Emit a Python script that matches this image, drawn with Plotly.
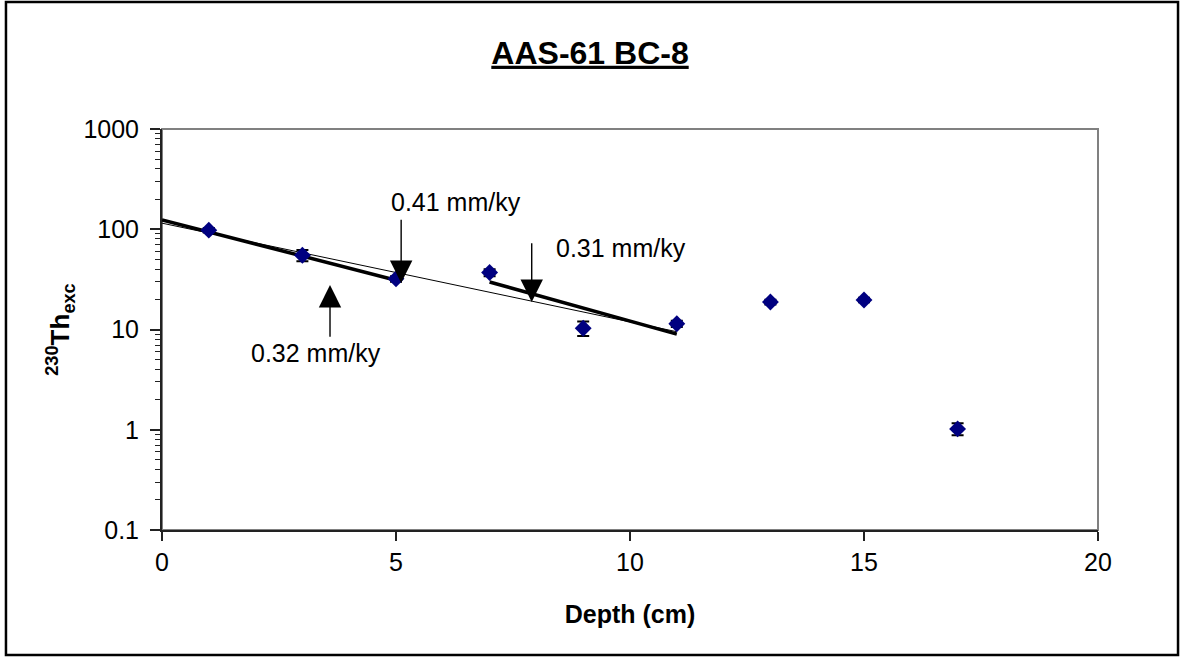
import math
import plotly.graph_objects as go

# ---- data ----
depth = [1, 3, 5, 7, 9, 11, 13, 15, 17]
th230_exc = [98, 55, 32, 37, 10.3, 11.4, 18.8, 19.7, 1.02]
th230_err = [5, 7, 2, 3, 1.7, 0.8, 1.0, 1.0, 0.14]

fit_all_x = [0, 11]
fit_all_y = [115, 9.5]
fit_top_x = [0, 5]
fit_top_y = [124, 31]
fit_low_x = [7, 11]
fit_low_y = [29.8, 9.0]

rate_labels = ["0.41 mm/ky", "0.32 mm/ky", "0.31 mm/ky"]
# arrow tip and tail in data units, label position in data units
arrow_tip_x = [5.11, 3.59, 7.90]
arrow_tip_y = [29.1, 27.8, 18.8]
arrow_tail_x = [5.11, 3.59, 7.90]
arrow_tail_y = [129, 8.2, 75]
label_x = [6.28, 3.29, 9.81]
label_y = [187, 5.83, 65]

x_ticks = [0, 5, 10, 15, 20]
y_ticks = [0.1, 1, 10, 100, 1000]
y_ticktext = ["0.1", "1", "10", "100", "1000"]

FONT = "Liberation Sans, Arial, sans-serif"

fig = go.Figure()

fig.add_trace(go.Scatter(x=fit_all_x, y=fit_all_y, mode="lines",
                         line=dict(color="black", width=1), showlegend=False))
fig.add_trace(go.Scatter(x=fit_top_x, y=fit_top_y, mode="lines",
                         line=dict(color="black", width=3.5), showlegend=False))
fig.add_trace(go.Scatter(x=fit_low_x, y=fit_low_y, mode="lines",
                         line=dict(color="black", width=3.5), showlegend=False))

fig.add_trace(go.Scatter(
    x=depth, y=th230_exc, mode="markers",
    marker=dict(symbol="diamond", size=13, color="#000080"),
    error_y=dict(type="data", array=th230_err, color="black", thickness=2, width=6),
    showlegend=False))

# annotations on a log axis take log10 positions
for i, lab in enumerate(rate_labels):
    fig.add_annotation(x=arrow_tip_x[i], y=math.log10(arrow_tip_y[i]),
                       ax=arrow_tail_x[i], ay=math.log10(arrow_tail_y[i]),
                       axref="x", ayref="y", xref="x", yref="y",
                       text="", showarrow=True, arrowhead=2, arrowsize=3.2,
                       arrowwidth=1.4, arrowcolor="black")
    fig.add_annotation(x=label_x[i], y=math.log10(label_y[i]), xref="x", yref="y",
                       text=lab, showarrow=False,
                       font=dict(family=FONT, size=25, color="black"))

# plot-area frame (grey) and outer chart border
fig.add_shape(type="rect", xref="paper", yref="paper", x0=0, x1=1, y0=0, y1=1,
              line=dict(color="#808080", width=2), layer="below")
fig.add_shape(type="rect", xref="paper", yref="paper",
              x0=-0.1667, x1=1.0855, y0=-0.3117, y1=1.3167,
              line=dict(color="black", width=2.5), layer="below")

fig.update_layout(
    width=1180, height=657,
    margin=dict(l=162, r=82, t=129, b=127),
    paper_bgcolor="white", plot_bgcolor="white",
    font=dict(family=FONT, color="black", size=25),
    title=dict(text="<b><u>AAS-61 BC-8</u></b>", x=0.5, xanchor="center",
               xref="container", y=0.92, yanchor="middle",
               font=dict(family=FONT, size=32, color="black")),
    xaxis=dict(range=[0, 20], tickvals=x_ticks, showgrid=False, zeroline=False,
               showline=True, linecolor="#222", linewidth=2,
               ticks="outside", ticklen=9, tickwidth=1.5, tickcolor="#222",
               tickfont=dict(size=25),
               title=dict(text="<b>Depth (cm)</b>", font=dict(size=25), standoff=30)),
    yaxis=dict(type="log", range=[-1, 3], tickvals=y_ticks, ticktext=y_ticktext,
               showgrid=False, zeroline=False,
               showline=True, linecolor="#222", linewidth=2,
               ticks="outside", ticklen=10, tickwidth=1.5, tickcolor="#222",
               ticklabelstandoff=6,
               minor=dict(ticks="outside", ticklen=5, tickwidth=1, tickcolor="#222",
                          dtick="D1", showgrid=False),
               tickfont=dict(size=25),
               title=dict(text="<b><sup>230</sup>Th<sub>exc</sub></b>",
                          font=dict(size=26), standoff=6)),
)

fig.write_html("out.html", post_script="document.body.style.margin='0';",
               config={"displayModeBar": False})
